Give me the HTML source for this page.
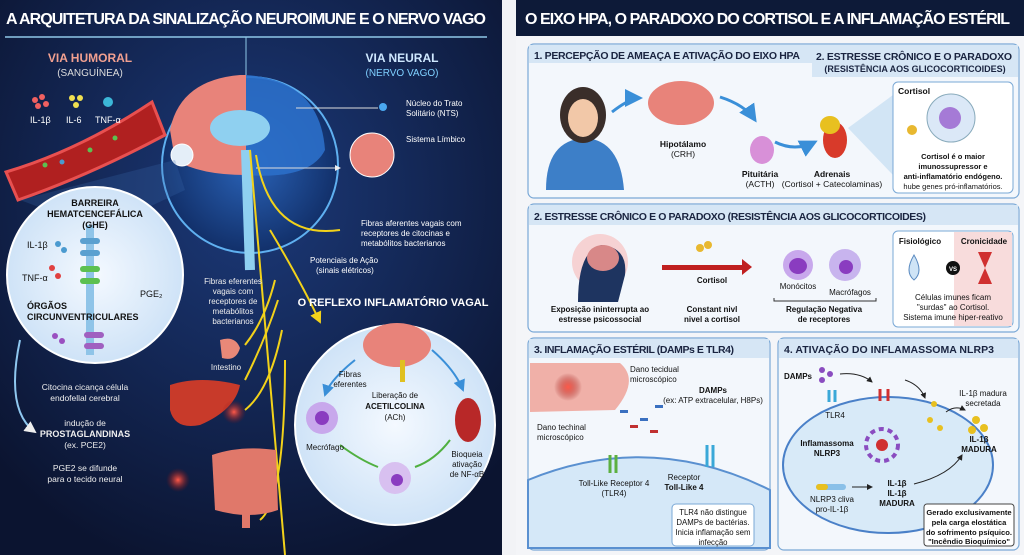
<!DOCTYPE html>
<html><head><meta charset="utf-8"><style>
html,body{margin:0;padding:0;width:1024px;height:555px;overflow:hidden;background:#f4f5f8;font-family:"Liberation Sans",sans-serif}
svg{display:block}
</style></head><body>
<svg width="1024" height="555" viewBox="0 0 1024 555" xmlns="http://www.w3.org/2000/svg" font-family="Liberation Sans, sans-serif">
<defs>
<radialGradient id="bg" cx="0.5" cy="0.35" r="0.7"><stop offset="0" stop-color="#1c3a7a"/><stop offset="1" stop-color="#0b1430"/></radialGradient>
<radialGradient id="head" cx="0.5" cy="0.5" r="0.5"><stop offset="0" stop-color="#2a63b8"/><stop offset="1" stop-color="#12306a"/></radialGradient>
<radialGradient id="pale" cx="0.5" cy="0.5" r="0.5"><stop offset="0" stop-color="#f4f9ff"/><stop offset="1" stop-color="#cfe3f7"/></radialGradient>
<radialGradient id="glow" cx="0.5" cy="0.5" r="0.5"><stop offset="0" stop-color="#ff5a4a"/><stop offset="1" stop-color="#8a1010" stop-opacity="0"/></radialGradient>
<marker id="ar" markerWidth="6" markerHeight="6" refX="5" refY="3" orient="auto"><path d="M0,0L6,3L0,6z" fill="#222"/></marker>
<marker id="aw" markerWidth="6" markerHeight="6" refX="5" refY="3" orient="auto"><path d="M0,0L6,3L0,6z" fill="#eee"/></marker>
<marker id="ay" markerWidth="6" markerHeight="6" refX="5" refY="3" orient="auto"><path d="M0,0L6,3L0,6z" fill="#f2d21a"/></marker>
<marker id="ab" markerWidth="6" markerHeight="6" refX="5" refY="3" orient="auto"><path d="M0,0L6,3L0,6z" fill="#3a8fd8"/></marker>
</defs>
<!-- LEFT -->
<rect x="0" y="0" width="502" height="555" fill="url(#bg)"/>
<rect x="502" y="0" width="14" height="555" fill="#f2f3f6"/>
<text x="6" y="24" font-size="16" font-weight="bold" fill="#fff" textLength="480">A ARQUITETURA DA SINALIZAÇÃO NEUROIMUNE E O NERVO VAGO</text>
<line x1="5" y1="37" x2="487" y2="37" stroke="#8fc8e8" stroke-width="1.5"/>
<line x1="246" y1="37" x2="246" y2="235" stroke="#8fc8e8" stroke-width="1"/>
<text x="90" y="62" font-size="12" font-weight="bold" fill="#f2a090" text-anchor="middle">VIA HUMORAL</text>
<text x="90" y="76" font-size="10" fill="#ddd" text-anchor="middle">(SANGUÍNEA)</text>
<text x="402" y="62" font-size="12" font-weight="bold" fill="#cfe8ff" text-anchor="middle">VIA NEURAL</text>
<text x="402" y="76" font-size="10" fill="#7fd0ff" text-anchor="middle">(NERVO VAGO)</text>
<!-- head -->
<circle cx="250" cy="165" r="88" fill="url(#head)" stroke="#5fb0f0" stroke-width="2"/>
<path d="M170,130 Q180,80 240,75 L246,75 L246,175 Q200,175 175,160 Z" fill="#e8837a"/>
<path d="M246,75 Q320,80 325,150 Q310,180 246,175 Z" fill="#2b6fc9" opacity=".9"/>
<ellipse cx="240" cy="128" rx="30" ry="18" fill="#8fd0f0"/>
<path d="M246,150 L250,270" stroke="#8fd0f0" stroke-width="10"/>
<circle cx="182" cy="155" r="11" fill="#e4eef8" stroke="#fff"/>
<!-- blood vessel -->
<path d="M6,172 Q80,150 152,102 L165,135 Q90,175 18,200 Z" fill="#b02020" stroke="#e85050" stroke-width="3"/>
<circle cx="45" cy="165" r="2.5" fill="#5cc050"/><circle cx="90" cy="150" r="2.5" fill="#5cc050"/><circle cx="62" cy="162" r="2.5" fill="#4a9ad0"/><circle cx="115" cy="138" r="2.5" fill="#5cc050"/>
<circle cx="35" cy="100" r="3" fill="#f06060"/><circle cx="42" cy="97" r="3" fill="#f06060"/><circle cx="38" cy="106" r="3" fill="#f06060"/><circle cx="46" cy="104" r="3" fill="#f06060"/>
<circle cx="72" cy="98" r="3" fill="#f0e050"/><circle cx="80" cy="98" r="3" fill="#f0e050"/><circle cx="76" cy="105" r="3" fill="#f0e050"/>
<circle cx="108" cy="102" r="5" fill="#3cb7d8"/>
<text x="30" y="123" font-size="9" fill="#fff">IL-1β</text><text x="66" y="123" font-size="9" fill="#fff">IL-6</text><text x="95" y="123" font-size="9" fill="#fff">TNF-α</text>
<!-- BBB circle -->
<polygon points="20,200 175,160 185,190 100,230" fill="#3a6ab0" opacity=".25"/>
<circle cx="95" cy="275" r="88" fill="url(#pale)" stroke="#fff" stroke-width="2"/>
<rect x="86" y="225" width="8" height="130" fill="#8fc4e8"/>
<text x="95" y="206" font-size="9" font-weight="bold" fill="#111" text-anchor="middle">BARREIRA</text>
<text x="95" y="217" font-size="9" font-weight="bold" fill="#111" text-anchor="middle">HEMATCENCEFÁLICA</text>
<text x="95" y="228" font-size="9" font-weight="bold" fill="#111" text-anchor="middle">(GHE)</text>
<text x="27" y="248" font-size="9" fill="#111">IL-1β</text>
<rect x="80" y="238" width="20" height="6" rx="3" fill="#5aa0d0"/><rect x="80" y="250" width="20" height="6" rx="3" fill="#5aa0d0"/>
<rect x="80" y="266" width="20" height="6" rx="3" fill="#5cc050"/><rect x="80" y="278" width="20" height="6" rx="3" fill="#5cc050"/>
<text x="22" y="281" font-size="9" fill="#111">TNF-α</text>
<circle cx="58" cy="244" r="3" fill="#4a9ad0"/><circle cx="64" cy="250" r="3" fill="#4a9ad0"/><circle cx="52" cy="268" r="3" fill="#e04040"/><circle cx="58" cy="276" r="3" fill="#e04040"/>
<text x="140" y="297" font-size="9" fill="#111">PGE₂</text>
<text x="27" y="309" font-size="9" font-weight="bold" fill="#111">ÓRGÃOS</text>
<text x="27" y="320" font-size="9" font-weight="bold" fill="#111">CIRCUNVENTRICULARES</text>
<rect x="84" y="332" width="20" height="6" rx="3" fill="#a060c0"/><rect x="84" y="343" width="20" height="6" rx="3" fill="#a060c0"/>
<circle cx="55" cy="336" r="3" fill="#9a50c0"/><circle cx="62" cy="341" r="3" fill="#9a50c0"/>
<path d="M20,340 Q5,410 35,432" fill="none" stroke="#8fc8f0" stroke-width="2" marker-end="url(#aw)"/>
<g font-size="8.5" fill="#eee" text-anchor="middle">
<text x="85" y="390">Citocina cicança célula</text><text x="85" y="401">endofellal cerebral</text>
<text x="85" y="426">indução de</text><text x="85" y="437" font-weight="bold" font-size="9">PROSTAGLANDINAS</text><text x="85" y="448">(ex. PCE2)</text>
<text x="85" y="471">PGE2 se difunde</text><text x="85" y="482">para o tecido neural</text></g>
<!-- right labels neural -->
<g font-size="8" fill="#fff"><text x="406" y="106">Núcleo do Trato</text><text x="406" y="116">Solitário (NTS)</text><text x="406" y="142">Sistema Límbico</text>
<text x="361" y="226">Fibras aferentes vagais com</text><text x="361" y="236">receptores de citocinas e</text><text x="361" y="246">metabólitos bacterianos</text>
<text x="310" y="263">Potenciais de Ação</text><text x="316" y="273">(sinais elétricos)</text></g>
<circle cx="383" cy="107" r="4" fill="#4aa8f0"/>
<path d="M296,108 L378,108" stroke="#ddd"/>
<circle cx="372" cy="155" r="22" fill="#e8837a" stroke="#fff" stroke-width="1"/>
<path d="M256,168 L340,168" stroke="#ddd" marker-end="url(#aw)"/>
<!-- yellow nerves -->
<g fill="none" stroke="#f2d21a" stroke-width="2">
<path d="M250,150 L285,555"/><path d="M256,155 Q270,240 340,230"/>
<path d="M275,280 Q265,320 245,345"/><path d="M278,300 Q265,340 245,380"/><path d="M282,330 Q270,390 245,410"/><path d="M285,360 Q285,500 260,520"/>
<path d="M270,230 Q300,280 320,322" marker-end="url(#ay)"/></g>
<g font-size="8" fill="#eee" text-anchor="middle"><text x="233" y="284">Fibras eferentes</text><text x="233" y="294">vagais com</text><text x="233" y="304">receptores de</text><text x="233" y="314">metabólitos</text><text x="233" y="324">bacterianos</text><text x="226" y="370">Intestino</text></g>
<path d="M220,340 Q235,335 240,348 Q236,362 222,358 Z" fill="#e88878"/>
<path d="M170,385 Q200,375 240,385 Q235,410 200,425 Q175,430 170,410 Z" fill="#c83a2a"/>
<circle cx="234" cy="412" r="12" fill="url(#glow)"/><circle cx="178" cy="480" r="12" fill="url(#glow)"/>
<path d="M212,455 Q240,445 276,450 L278,510 Q250,520 215,510 Z" fill="#e0786a"/>
<rect x="242" y="508" width="8" height="20" fill="#e0786a"/>
<text x="393" y="306" font-size="11" font-weight="bold" fill="#fff" text-anchor="middle">O REFLEXO INFLAMATÓRIO VAGAL</text>
<circle cx="395" cy="425" r="100" fill="url(#pale)" stroke="#fff" stroke-width="2"/>
<ellipse cx="397" cy="345" rx="34" ry="22" fill="#e8837a"/><rect x="400" y="360" width="5" height="22" fill="#e0c020"/>
<ellipse cx="468" cy="420" rx="13" ry="22" fill="#b82828"/>
<circle cx="322" cy="418" r="16" fill="#c8a8ec"/><circle cx="322" cy="418" r="7" fill="#8a3cc0"/>
<circle cx="395" cy="478" r="16" fill="#d8c0f0"/><circle cx="397" cy="480" r="6" fill="#8a3cc0"/>
<path d="M355,360 Q330,380 325,395" fill="none" stroke="#3a8fd8" stroke-width="2" marker-end="url(#ab)"/>
<path d="M432,350 Q455,370 463,390" fill="none" stroke="#3a8fd8" stroke-width="2" marker-end="url(#ab)"/>
<path d="M340,445 Q360,460 378,467" fill="none" stroke="#50b040" stroke-width="2"/>
<path d="M450,440 Q435,460 415,467" fill="none" stroke="#50b040" stroke-width="2"/>
<g font-size="8" fill="#111" text-anchor="middle"><text x="350" y="377">Fibras</text><text x="350" y="387">eferentes</text><text x="395" y="398">Liberação de</text><text x="395" y="409" font-weight="bold">ACETILCOLINA</text><text x="395" y="420">(ACh)</text><text x="325" y="450">Mecrófago</text><text x="467" y="457">Bioqueia</text><text x="467" y="467">ativação</text><text x="467" y="477">de NF-αB</text></g>

<!-- RIGHT -->
<rect x="516" y="0" width="508" height="36" fill="#0d1a38"/>
<text x="525" y="24" font-size="16" font-weight="bold" fill="#fff" textLength="485">O EIXO HPA, O PARADOXO DO CORTISOL E A INFLAMAÇÃO ESTÉRIL</text>
<!-- panel 1 -->
<rect x="528" y="44" width="491" height="154" rx="6" fill="#f3f7fc" stroke="#7aa8d6" stroke-width="1.2"/>
<path d="M529,45 H1018 V63 H529 Z" fill="#d6e6f5"/>
<rect x="812" y="45" width="206" height="32" fill="#d6e6f5"/>
<text x="534" y="59" font-size="10.5" font-weight="bold" fill="#1a2440" textLength="266">1. PERCEPÇÃO DE AMEAÇA E ATIVAÇÃO DO EIXO HPA</text>
<text x="816" y="60" font-size="10.5" font-weight="bold" fill="#1a2440" textLength="196">2. ESTRESSE CRÔNICO E O PARADOXO</text>
<text x="915" y="72" font-size="9" font-weight="bold" fill="#1a2440" text-anchor="middle">(RESISTÊNCIA AOS GLICOCORTICOIDES)</text>
<path d="M546,190 Q546,140 585,138 Q620,140 624,190 Z" fill="#3d7fc8"/>
<ellipse cx="583" cy="115" rx="23" ry="28" fill="#3a2e2a"/><ellipse cx="583" cy="118" rx="15" ry="19" fill="#f2c8a8"/>
<path d="M612,112 Q630,98 640,98" fill="none" stroke="#3a8fd8" stroke-width="3" marker-end="url(#ab)"/>
<ellipse cx="681" cy="103" rx="33" ry="22" fill="#e8837a"/>
<text x="683" y="147" font-size="8.5" font-weight="bold" fill="#111" text-anchor="middle">Hipotálamo</text><text x="683" y="157" font-size="8.5" fill="#111" text-anchor="middle">(CRH)</text>
<path d="M720,97 Q745,105 755,120" fill="none" stroke="#3a8fd8" stroke-width="3" marker-end="url(#ab)"/>
<ellipse cx="762" cy="150" rx="12" ry="14" fill="#d890d8"/>
<text x="760" y="177" font-size="8.5" font-weight="bold" fill="#111" text-anchor="middle">Pituitária</text><text x="760" y="187" font-size="8.5" fill="#111" text-anchor="middle">(ACTH)</text>
<path d="M775,142 Q795,152 815,142" fill="none" stroke="#3a8fd8" stroke-width="3" marker-end="url(#ab)"/>
<ellipse cx="835" cy="140" rx="12" ry="18" fill="#d83a2a"/><ellipse cx="830" cy="125" rx="10" ry="9" fill="#e8c020"/>
<text x="832" y="177" font-size="8.5" font-weight="bold" fill="#111" text-anchor="middle">Adrenais</text><text x="832" y="187" font-size="8.5" fill="#111" text-anchor="middle">(Cortisol + Catecolaminas)</text>
<polygon points="848,128 893,95 893,175" fill="#bcd8f0" opacity=".6"/>
<rect x="893" y="82" width="120" height="111" rx="5" fill="#fff" stroke="#7aa8d6"/>
<text x="898" y="94" font-size="8.5" font-weight="bold" fill="#111">Cortisol</text>
<circle cx="951" cy="118" r="24" fill="#dbe8f7" stroke="#8ab"/><circle cx="950" cy="118" r="11" fill="#a57ad6"/>
<circle cx="912" cy="130" r="5" fill="#e8b830"/>
<g font-size="7.5" fill="#111" text-anchor="middle"><text x="953" y="159" font-weight="bold">Cortisol é o maior</text><text x="953" y="169" font-weight="bold">imunossupressor e</text><text x="953" y="179" font-weight="bold">anti-inflamatório endógeno.</text><text x="953" y="189">hube genes pró-inflamatórios.</text></g>
<!-- panel 2 -->
<rect x="528" y="204" width="491" height="128" rx="6" fill="#f3f7fc" stroke="#7aa8d6" stroke-width="1.2"/>
<path d="M529,205 H1018 V225 H529 Z" fill="#d6e6f5"/>
<text x="534" y="220" font-size="10.5" font-weight="bold" fill="#1a2440" textLength="392">2. ESTRESSE CRÔNICO E O PARADOXO (RESISTÊNCIA AOS GLICOCORTICOIDES)</text>
<circle cx="600" cy="262" r="28" fill="#f6c8c8" opacity=".8"/>
<path d="M578,302 Q578,250 602,245 Q628,248 625,275 L618,302 Z" fill="#1e3460"/>
<ellipse cx="603" cy="258" rx="16" ry="13" fill="#d88888"/>
<text x="600" y="312" font-size="8" font-weight="bold" fill="#111" text-anchor="middle">Exposição ininterrupta ao</text><text x="600" y="322" font-size="8" font-weight="bold" fill="#111" text-anchor="middle">estresse psicossocial</text>
<rect x="662" y="265" width="80" height="5" fill="#c02020"/><polygon points="742,259 752,267 742,275" fill="#c02020"/>
<circle cx="700" cy="248" r="4" fill="#e8b830"/><circle cx="708" cy="245" r="4" fill="#e8b830"/>
<text x="712" y="283" font-size="8" font-weight="bold" fill="#111" text-anchor="middle">Cortisol</text>
<text x="712" y="312" font-size="8" font-weight="bold" fill="#111" text-anchor="middle">Constant nivl</text><text x="712" y="322" font-size="8" font-weight="bold" fill="#111" text-anchor="middle">nivel a cortisol</text>
<circle cx="798" cy="265" r="15" fill="#c8a8ec"/><ellipse cx="798" cy="266" rx="9" ry="8" fill="#8a3cc0"/>
<circle cx="845" cy="265" r="16" fill="#c8b4ee"/><circle cx="846" cy="267" r="7" fill="#8a3cc0"/>
<text x="798" y="289" font-size="8" fill="#111" text-anchor="middle">Monócitos</text><text x="850" y="295" font-size="8" fill="#111" text-anchor="middle">Macrófagos</text>
<path d="M774,298 V301 H876 V298" fill="none" stroke="#333"/>
<text x="824" y="312" font-size="8" font-weight="bold" fill="#111" text-anchor="middle">Regulação Negativa</text><text x="824" y="322" font-size="8" font-weight="bold" fill="#111" text-anchor="middle">de receptores</text>
<rect x="893" y="231" width="120" height="96" rx="5" fill="#fff" stroke="#7aa8d6"/>
<rect x="954" y="232" width="58" height="94" fill="#f8dcdc"/>
<text x="920" y="244" font-size="8" font-weight="bold" fill="#111" text-anchor="middle">Fisiológico</text><text x="984" y="244" font-size="8" font-weight="bold" fill="#111" text-anchor="middle">Cronicidade</text>
<path d="M914,255 Q904,272 914,280 Q924,272 914,255 Z" fill="#cfe4f6" stroke="#5a8ac0"/>
<circle cx="953" cy="268" r="7" fill="#111"/><text x="953" y="271" font-size="6" font-weight="bold" fill="#fff" text-anchor="middle">VS</text>
<path d="M978,252 H992 L985,268 L992,284 H978 L985,268 Z" fill="#d03030"/>
<g font-size="8" fill="#111" text-anchor="middle"><text x="953" y="300">Células imunes ficam</text><text x="953" y="310">"surdas" ao Cortisol.</text><text x="953" y="320">Sistema imune hiper-reativo</text></g>
<!-- panel 3 -->
<rect x="528" y="338" width="242" height="212" rx="6" fill="#f3f7fc" stroke="#7aa8d6" stroke-width="1.2"/>
<path d="M529,339 H769 V358 H529 Z" fill="#d6e6f5"/>
<text x="534" y="353" font-size="10.5" font-weight="bold" fill="#1a2440" textLength="200">3. INFLAMAÇÃO ESTÉRIL (DAMPs E TLR4)</text>
<path d="M530,363 L620,363 Q640,380 615,410 L530,412 Z" fill="#f0b0a8"/>
<circle cx="568" cy="387" r="14" fill="url(#glow)"/>
<g font-size="8" fill="#111"><text x="630" y="372">Dano tecidual</text><text x="630" y="382">microscópico</text><text x="537" y="430">Dano techinal</text><text x="537" y="440">microscópico</text>
<text x="713" y="393" font-weight="bold" text-anchor="middle">DAMPs</text><text x="713" y="403" text-anchor="middle">(ex: ATP extracelular, H8Ps)</text></g>
<g fill="#3a70c0"><rect x="620" y="410" width="8" height="3"/><rect x="640" y="418" width="8" height="3"/><rect x="655" y="405" width="8" height="3"/></g>
<g fill="#c03030"><rect x="630" y="425" width="8" height="3"/><rect x="650" y="430" width="8" height="3"/></g>
<path d="M528,480 Q650,430 770,490 L770,548 L528,548 Z" fill="#d5e8f8" stroke="#5a90d0" stroke-width="2"/>
<path d="M610,455 v18 M616,455 v18" stroke="#5cb040" stroke-width="3"/>
<path d="M707,445 v22 M713,445 v22" stroke="#3aa8d8" stroke-width="3"/>
<g font-size="8" fill="#111" text-anchor="middle"><text x="614" y="486">Toll-Like Receptor 4</text><text x="614" y="496">(TLR4)</text><text x="684" y="480">Receptor</text><text x="684" y="490" font-weight="bold">Toll-Like 4</text></g>
<rect x="672" y="504" width="82" height="42" rx="4" fill="#fff" stroke="#7aa8d6"/>
<g font-size="7.8" fill="#111" text-anchor="middle"><text x="713" y="515">TLR4 não distingue</text><text x="713" y="525">DAMPs de bactérias.</text><text x="713" y="535">Inicia inflamação sem</text><text x="713" y="545">infecção</text></g>
<!-- panel 4 -->
<rect x="778" y="338" width="241" height="212" rx="6" fill="#f3f7fc" stroke="#7aa8d6" stroke-width="1.2"/>
<path d="M779,339 H1018 V358 H779 Z" fill="#d6e6f5"/>
<text x="784" y="353" font-size="10.5" font-weight="bold" fill="#1a2440" textLength="210">4. ATIVAÇÃO DO INFLAMASSOMA NLRP3</text>
<ellipse cx="888" cy="465" rx="105" ry="68" fill="#d8eaf8" stroke="#4a80c8" stroke-width="2"/>
<text x="784" y="379" font-size="8" font-weight="bold" fill="#111">DAMPs</text>
<circle cx="822" cy="370" r="3" fill="#8a4cc0"/><circle cx="830" cy="374" r="3" fill="#8a4cc0"/><circle cx="822" cy="380" r="3" fill="#8a4cc0"/>
<path d="M829,390 v12 M835,390 v12" stroke="#3aa8d8" stroke-width="3"/>
<path d="M880,389 v12 M888,389 v12" stroke="#d03030" stroke-width="3"/>
<path d="M840,374 Q860,372 872,382" fill="none" stroke="#222" marker-end="url(#ar)"/>
<path d="M905,380 Q920,385 925,398" fill="none" stroke="#222" marker-end="url(#ar)"/>
<text x="835" y="418" font-size="8" fill="#111" text-anchor="middle">TLR4</text>
<circle cx="882" cy="445" r="16" fill="none" stroke="#8a4cc0" stroke-width="4" stroke-dasharray="5 4"/><circle cx="882" cy="445" r="6" fill="#d03030"/>
<text x="827" y="446" font-size="8" font-weight="bold" fill="#111" text-anchor="middle">Inflamassoma</text><text x="827" y="456" font-size="8" font-weight="bold" fill="#111" text-anchor="middle">NLRP3</text>
<rect x="816" y="484" width="30" height="6" rx="3" fill="#8ac0e8"/><rect x="816" y="484" width="12" height="6" rx="3" fill="#e8c020"/>
<path d="M852,487 L872,487" stroke="#222" marker-end="url(#ar)"/>
<g font-size="8" fill="#111" text-anchor="middle"><text x="832" y="502">NLRP3 cliva</text><text x="832" y="512">pro-IL-1β</text><text x="897" y="486" font-weight="bold">IL-1β</text><text x="897" y="496" font-weight="bold">IL-1β</text><text x="897" y="506" font-weight="bold">MADURA</text>
<text x="983" y="396">IL-1β madura</text><text x="983" y="406">secretada</text><text x="979" y="442" font-weight="bold">IL-1β</text><text x="979" y="452" font-weight="bold">MADURA</text></g>
<circle cx="934" cy="404" r="3" fill="#e8c020"/><circle cx="930" cy="420" r="3" fill="#e8c020"/><circle cx="940" cy="428" r="3" fill="#e8c020"/>
<circle cx="976" cy="420" r="4" fill="#e8c020"/><circle cx="972" cy="430" r="4" fill="#e8c020"/><circle cx="984" cy="428" r="4" fill="#e8c020"/>
<path d="M946,412 Q955,405 965,410" fill="none" stroke="#222" marker-end="url(#ar)"/>
<path d="M914,484 Q950,475 962,455" fill="none" stroke="#222" marker-end="url(#ar)"/>
<rect x="924" y="504" width="90" height="42" rx="3" fill="#fff" stroke="#444"/>
<g font-size="7.6" fill="#111" text-anchor="middle" font-weight="bold"><text x="969" y="515">Gerado exclusivamente</text><text x="969" y="525">pela carga elostática</text><text x="969" y="535">do sofrimento psíquico.</text><text x="969" y="544">"Incêndio Bioquímico"</text></g>
</svg>
</body></html>
